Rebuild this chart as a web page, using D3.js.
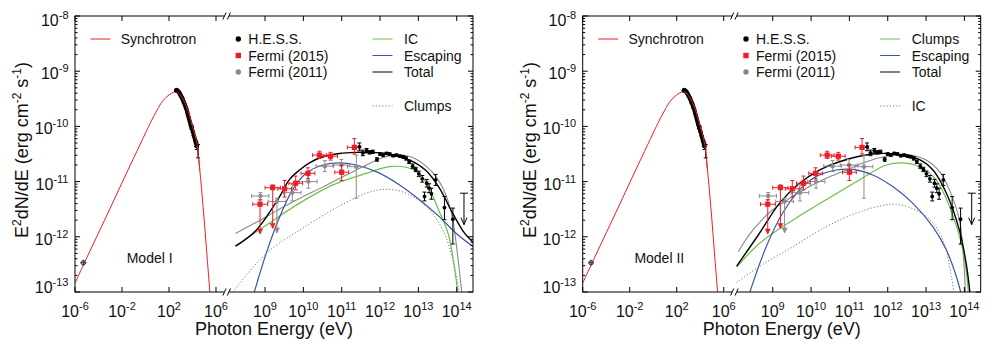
<!DOCTYPE html>
<html><head><meta charset="utf-8">
<script src="https://cdn.jsdelivr.net/npm/d3@7"></script>
<style>body{margin:0;background:#fff} text{font-family:"Liberation Sans",Arial,sans-serif;fill:#111}</style>
</head><body><svg id="c" width="987" height="347"></svg>
<script>
// All values are [log10 E (eV), log10 E^2 dN/dE (erg cm^-2 s^-1)]
const yTicks = [-8,-9,-10,-11,-12,-13];
const xTicksLow = [-6,-2,2,6];
const xTicksHigh = [9,10,11,12,13,14];

const synchrotron = [[-6,-12.84],[-5,-12.38],[-4,-11.93],[-3,-11.48],[-2,-11.02],[-1,-10.57],[0,-10.12],[0.5,-9.9],[1,-9.7],[1.5,-9.53],[2,-9.43],[2.4,-9.38],[2.65,-9.37],[3,-9.44],[3.5,-9.65],[4,-10.0],[4.36,-10.3],[4.62,-10.79],[4.9,-11.45],[5.2,-12.25],[5.55,-13.2]];
const radioPoint = [[-5.29,-12.47]];
const xrayData = [[2.6,-9.35],[2.65,-9.34],[2.7,-9.35],[2.75,-9.36],[2.8,-9.37],[2.85,-9.38],[2.9,-9.4],[2.95,-9.42],[3.0,-9.44],[3.05,-9.46],[3.1,-9.48],[3.15,-9.5],[3.2,-9.53],[3.25,-9.56],[3.3,-9.58],[3.35,-9.61],[3.4,-9.64],[3.45,-9.67],[3.5,-9.7],[3.55,-9.74],[3.6,-9.78],[3.65,-9.82],[3.7,-9.86],[3.75,-9.9],[3.8,-9.94],[3.85,-9.98],[3.9,-10.03],[3.95,-10.01],[4.0,-10.08],[4.05,-10.11],[4.1,-10.16],[4.15,-10.19],[4.2,-10.23],[4.25,-10.27],[4.3,-10.31],[4.36,-10.36]];
const xrayErr = [[4.3,-10.31,0.05],[4.36,-10.36,0.06],[4.47,-10.45,0.12]];

// H.E.S.S.: [logE, logF, errDown, errUp]
const hess = [[11.46,-10.37,.07,.07],[11.55,-10.48,.05,.05],[11.65,-10.44,.04,.04],[11.73,-10.47,.03,.03],[11.81,-10.46,.03,.03],[11.92,-10.6,.03,.03],[12.0,-10.5,.02,.02],[12.08,-10.52,.02,.02],[12.17,-10.49,.02,.02],[12.25,-10.5,.02,.02],[12.34,-10.53,.02,.02],[12.43,-10.52,.02,.02],[12.52,-10.54,.02,.02],[12.6,-10.55,.02,.02],[12.68,-10.58,.03,.03],[12.76,-10.64,.03,.03],[12.85,-10.72,.04,.04],[12.93,-10.78,.04,.04],[13.01,-10.86,.05,.05],[13.1,-10.95,.06,.06],[13.16,-11.27,.08,.08],[13.22,-11.03,.07,.07],[13.28,-11.12,.08,.08],[13.34,-11.22,.1,.1],[13.45,-10.97,.1,.1],[13.68,-11.47,.22,.2],[13.9,-11.68,.45,.2]];
const hessUL = [[14.19,-11.21,-11.78]];
// Fermi (2015): [logE, logF, lowF, highF, lowE, highE, arrow]
const fermi2015 = [[8.87,-11.41,-11.95,-11.33,8.68,9.07,1],[9.2,-11.11,-11.85,-11.06,9.0,9.4,1],[9.51,-11.13,-11.28,-10.98,9.33,9.69,0],[9.8,-11.03,-11.15,-10.9,9.62,9.98,0],[10.12,-10.85,-10.95,-10.75,9.94,10.3,0],[10.42,-10.52,-10.58,-10.45,10.24,10.6,0],[10.71,-10.54,-10.61,-10.47,10.53,10.89,0],[11.0,-10.83,-10.98,-10.7,10.82,11.18,0],[11.33,-10.38,-10.5,-10.22,11.15,11.5,0]];
// Fermi (2011): [logE, logF, lowF, highF, lowE, highE, arrow]
const fermi2011 = [[8.88,-11.26,-11.33,-11.2,8.65,9.1,0],[9.31,-11.36,-11.93,-11.3,9.08,9.54,1],[9.71,-11.2,-11.35,-11.05,9.48,9.94,0],[10.13,-11.0,-11.12,-10.88,9.9,10.36,0],[10.56,-10.72,-10.82,-10.62,10.33,10.79,0],[10.99,-10.7,-10.8,-10.6,10.76,11.22,0],[11.38,-10.73,-11.3,-10.52,11.15,11.61,0]];

// Model I curves
const m1Total = [[8.23,-12.17],[8.77,-11.88],[9.38,-11.27],[9.64,-10.96],[9.9,-10.79],[10.16,-10.66],[10.51,-10.55],[10.94,-10.49],[11.38,-10.47],[11.81,-10.47],[12.16,-10.49],[12.51,-10.55],[12.86,-10.64],[13.2,-10.8],[13.55,-11.12],[13.9,-11.58],[14.2,-11.93],[14.43,-12.1]];
const m1IC = [[8.23,-12.17],[9.03,-11.79],[9.9,-11.39],[10.77,-11.06],[11.64,-10.85],[12.25,-10.73],[12.68,-10.74],[13.03,-10.85],[13.3,-11.15],[13.55,-11.55],[13.78,-11.95],[13.95,-12.6],[14.04,-13.1]];
const m1Escaping = [[8.7,-13.05],[9.03,-12.3],[9.38,-11.64],[9.72,-11.15],[10.07,-10.85],[10.51,-10.7],[10.94,-10.66],[11.38,-10.7],[11.9,-10.82],[12.51,-11.06],[13.03,-11.33],[13.55,-11.64],[13.99,-11.94],[14.43,-12.18]];
const m1Clumps = [[8.1,-13.05],[9.03,-12.3],[9.9,-11.88],[10.77,-11.51],[11.64,-11.21],[12.16,-11.14],[12.68,-11.21],[13.2,-11.45],[13.64,-11.88],[13.9,-12.42],[14.08,-13.05]];
const m1Gray = [[8.23,-11.94],[9.0,-11.65],[9.5,-11.45],[10.0,-11.27],[10.5,-11.1],[11.0,-10.92],[11.5,-10.75],[12.0,-10.58],[12.4,-10.52],[12.8,-10.55],[13.2,-10.72],[13.5,-10.95],[13.75,-11.3],[13.9,-11.7],[14.0,-12.2],[14.1,-12.8],[14.14,-13.05]];
// Model II curves
const m2Total = [[8.06,-12.53],[8.65,-11.94],[9.18,-11.39],[9.7,-11.03],[10.22,-10.79],[10.74,-10.64],[11.26,-10.54],[11.79,-10.49],[12.31,-10.51],[12.83,-10.6],[13.18,-10.79],[13.53,-11.21],[13.87,-11.88],[14.05,-12.5],[14.15,-13.05]];
const m2Clumps = [[8.06,-12.55],[8.65,-12.12],[9.52,-11.7],[10.39,-11.33],[11.26,-10.97],[11.96,-10.7],[12.39,-10.66],[12.83,-10.73],[13.26,-10.97],[13.61,-11.45],[13.96,-12.24],[14.11,-13.05]];
const m2Escaping = [[8.38,-13.05],[8.83,-12.18],[9.26,-11.57],[9.7,-11.15],[10.13,-10.91],[10.66,-10.79],[11.09,-10.78],[11.61,-10.88],[12.13,-11.09],[12.65,-11.39],[13.18,-11.82],[13.53,-12.24],[13.79,-12.72],[13.92,-13.05]];
const m2IC = [[8.06,-12.83],[8.65,-12.54],[9.52,-12.18],[10.39,-11.82],[11.26,-11.55],[11.96,-11.42],[12.31,-11.42],[12.83,-11.55],[13.26,-11.82],[13.5,-12.18],[13.66,-12.72],[13.74,-13.05]];
const m2Gray = [[8.1,-12.27],[8.48,-11.88],[9.0,-11.51],[9.52,-11.27],[9.96,-11.09],[10.39,-10.94],[10.92,-10.79],[11.44,-10.64],[11.96,-10.54],[12.48,-10.51],[13.0,-10.61],[13.35,-10.82],[13.61,-11.15],[13.87,-11.7],[13.98,-12.42],[14.03,-13.05]];

const panels = [
  {left:75, label:"Model I", total:m1Total, green:m1IC, blue:m1Escaping, dotted:m1Clumps, gray:m1Gray, names:["IC","Escaping","Total","Clumps"]},
  {left:582.7, label:"Model II", total:m2Total, green:m2Clumps, blue:m2Escaping, dotted:m2IC, gray:m2Gray, names:["Clumps","Escaping","Total","IC"]}
];

const W = 398, H = 276, TOP = 16, BX = 151.7;
const RED = "#ee1c24", GREEN = "#6cc04a", BLUE = "#3a56a8", GRAY = "#8a8a8a";
const svg = d3.select("#c");
const P = v => Math.pow(10, v);
const y = d3.scaleLog().domain([1e-13, 1e-8]).range([H, 0]);
const xL = d3.scaleLog().domain([1e-6, P(6.91)]).range([0, BX]);
const xR = d3.scaleLog().domain([1e8, P(14.425)]).range([BX, W]);

panels.forEach((pn, pi) => {
  const g = svg.append("g").attr("transform", `translate(${pn.left},${TOP})`);
  const defs = g.append("defs");
  defs.append("clipPath").attr("id", "cl" + pi).append("rect").attr("x", 0).attr("y", 0).attr("width", BX).attr("height", H);
  defs.append("clipPath").attr("id", "cr" + pi).append("rect").attr("x", BX).attr("y", 0).attr("width", W - BX).attr("height", H);
  const gL = g.append("g").attr("clip-path", `url(#cl${pi})`);
  const gR = g.append("g").attr("clip-path", `url(#cr${pi})`);

  const lineL = d3.line().x(d => xL(P(d[0]))).y(d => y(P(d[1]))).curve(d3.curveCatmullRom.alpha(0.5));
  const lineR = d3.line().x(d => xR(P(d[0]))).y(d => y(P(d[1]))).curve(d3.curveCatmullRom.alpha(0.5));

  // model curves (right segment)
  gR.append("path").attr("d", lineR(pn.dotted)).attr("fill", "none").attr("stroke", "#777").attr("stroke-width", 1).attr("stroke-dasharray", "1.2,2");
  gR.append("path").attr("d", lineR(pn.gray)).attr("fill", "none").attr("stroke", GRAY).attr("stroke-width", 1.1);
  gR.append("path").attr("d", lineR(pn.green)).attr("fill", "none").attr("stroke", GREEN).attr("stroke-width", 1.2);
  gR.append("path").attr("d", lineR(pn.blue)).attr("fill", "none").attr("stroke", BLUE).attr("stroke-width", 1.2);
  gR.append("path").attr("d", lineR(pn.total)).attr("fill", "none").attr("stroke", "#000").attr("stroke-width", 1.4);

  // synchrotron (left segment)
  gL.append("path").attr("d", lineL(synchrotron)).attr("fill", "none").attr("stroke", RED).attr("stroke-width", 1);
  // x-ray data
  xrayErr.forEach(d => {
    const X = xL(P(d[0]));
    gL.append("line").attr("x1", X).attr("x2", X).attr("y1", y(P(d[1] - d[2]))).attr("y2", y(P(d[1] + d[2]))).attr("stroke", "#000").attr("stroke-width", 1);
    [d[1] - d[2], d[1] + d[2]].forEach(v => gL.append("line").attr("x1", X - 2).attr("x2", X + 2).attr("y1", y(P(v))).attr("y2", y(P(v))).attr("stroke", "#000"));
  });
  gL.selectAll(null).data(xrayData).enter().append("circle").attr("cx", d => xL(P(d[0]))).attr("cy", d => y(P(d[1]))).attr("r", 2.2).attr("fill", "#000");
  gL.append("path").attr("d", lineL(synchrotron.filter(d => d[0] >= 2.5 && d[0] <= 4.7))).attr("fill", "none").attr("stroke", RED).attr("stroke-width", 1);
  // radio point
  radioPoint.forEach(d => {
    const X = xL(P(d[0])), Y = y(P(d[1]));
    g.append("line").attr("x1", X - 3).attr("x2", X + 3).attr("y1", Y).attr("y2", Y).attr("stroke", "#333");
    g.append("line").attr("x1", X).attr("x2", X).attr("y1", Y - 3).attr("y2", Y + 3).attr("stroke", "#333");
    g.append("circle").attr("cx", X).attr("cy", Y).attr("r", 2.2).attr("fill", "none").attr("stroke", "#333").attr("stroke-width", 1);
  });

  // error bar helper
  function errPoint(d, col, kind) {
    const X = xR(P(d[0])), Y = y(P(d[1]));
    const Xl = xR(P(d[4])), Xh = xR(P(d[5])), Yl = y(P(d[2])), Yh = y(P(d[3]));
    gR.append("line").attr("x1", Xl).attr("x2", Xh).attr("y1", Y).attr("y2", Y).attr("stroke", col).attr("stroke-width", 1);
    [Xl, Xh].forEach(v => gR.append("line").attr("x1", v).attr("x2", v).attr("y1", Y - 2).attr("y2", Y + 2).attr("stroke", col));
    gR.append("line").attr("x1", X).attr("x2", X).attr("y1", Yh).attr("y2", Yl).attr("stroke", col).attr("stroke-width", 1);
    gR.append("line").attr("x1", X - 2).attr("x2", X + 2).attr("y1", Yh).attr("y2", Yh).attr("stroke", col);
    if (d[6]) {
      gR.append("path").attr("d", `M${X - 2.5},${Yl - 5}L${X},${Yl}L${X + 2.5},${Yl - 5}Z`).attr("fill", col).attr("stroke", col).attr("stroke-width", 0.6);
    } else {
      gR.append("line").attr("x1", X - 2).attr("x2", X + 2).attr("y1", Yl).attr("y2", Yl).attr("stroke", col);
    }
    if (kind === "sq") gR.append("rect").attr("x", X - 2.6).attr("y", Y - 2.6).attr("width", 5.2).attr("height", 5.2).attr("fill", col);
    else gR.append("circle").attr("cx", X).attr("cy", Y).attr("r", 2.2).attr("fill", col);
  }
  fermi2011.forEach(d => errPoint(d, "#8c8c8c", "c"));
  fermi2015.forEach(d => errPoint(d, RED, "sq"));
  hess.forEach(d => {
    const X = xR(P(d[0])), Y = y(P(d[1])), Yl = y(P(d[1] - d[2])), Yh = y(P(d[1] + d[3]));
    gR.append("line").attr("x1", X).attr("x2", X).attr("y1", Yh).attr("y2", Yl).attr("stroke", "#000");
    [Yl, Yh].forEach(v => gR.append("line").attr("x1", X - 2).attr("x2", X + 2).attr("y1", v).attr("y2", v).attr("stroke", "#000"));
    gR.append("circle").attr("cx", X).attr("cy", Y).attr("r", 1.9).attr("fill", "#000");
  });
  hessUL.forEach(d => {
    const X = xR(P(d[0])), Y = y(P(d[1])), Y2 = y(P(d[2]));
    gR.append("line").attr("x1", X - 4).attr("x2", X + 4).attr("y1", Y).attr("y2", Y).attr("stroke", "#000");
    gR.append("line").attr("x1", X).attr("x2", X).attr("y1", Y).attr("y2", Y2).attr("stroke", "#000");
    gR.append("path").attr("d", `M${X - 3},${Y2 - 7}L${X},${Y2}L${X + 3},${Y2 - 7}`).attr("fill", "none").attr("stroke", "#000");
  });

  // frame
  const ax = g.append("g").attr("stroke", "#000").attr("stroke-width", 1);
  ax.append("rect").attr("x", 0).attr("y", 0).attr("width", W).attr("height", H).attr("fill", "none");
  // y ticks
  yTicks.forEach(t => {
    const Y = y(P(t));
    ax.append("line").attr("x1", 0).attr("x2", 5).attr("y1", Y).attr("y2", Y);
    ax.append("line").attr("x1", W - 5).attr("x2", W).attr("y1", Y).attr("y2", Y);
    if (t > -13) for (let k = 2; k <= 9; k++) {
      const Ym = y(k * P(t - 1));
      ax.append("line").attr("x1", 0).attr("x2", 2.5).attr("y1", Ym).attr("y2", Ym);
      ax.append("line").attr("x1", W - 2.5).attr("x2", W).attr("y1", Ym).attr("y2", Ym);
    }
    const dy = t === -13 ? 1 : (t === -8 ? 10 : 8);
    const tx = g.append("text").attr("x", -6.5).attr("y", Y + dy).attr("text-anchor", "end").attr("font-size", 16);
    tx.append("tspan").text("10");
    tx.append("tspan").attr("dy", -7).attr("font-size", 11).text(t);
  });
  // x ticks
  const xt = xTicksLow.map(t => [xL(P(t)), t]).concat(xTicksHigh.map(t => [xR(P(t)), t]));
  xt.forEach(([X, t]) => {
    ax.append("line").attr("x1", X).attr("x2", X).attr("y1", H).attr("y2", H - 5);
    ax.append("line").attr("x1", X).attr("x2", X).attr("y1", 0).attr("y2", 5);
    const tx = g.append("text").attr("x", X).attr("y", H + 24.5).attr("text-anchor", "middle").attr("font-size", 16);
    tx.append("tspan").text("10");
    tx.append("tspan").attr("dy", -7).attr("font-size", 11).text(t);
  });
  // axis break marks
  [0, H].forEach(Y => {
    g.append("rect").attr("x", BX - 2.5).attr("y", Y - 1.5).attr("width", 5).attr("height", 3).attr("fill", "#fff");
    [-2.2, 2.2].forEach(o => g.append("line").attr("x1", BX + o - 1.6).attr("x2", BX + o + 1.6).attr("y1", Y + 3.5).attr("y2", Y - 3.5).attr("stroke", "#000").attr("stroke-width", 1));
  });

  // axis titles
  g.append("text").attr("x", W / 2).attr("y", 319).attr("text-anchor", "middle").attr("font-size", 18).text("Photon Energy (eV)");
  const yt = g.append("text").attr("transform", `translate(-47,${H / 2 - 4}) rotate(-90)`).attr("text-anchor", "middle").attr("font-size", 18);
  yt.append("tspan").text("E");
  yt.append("tspan").attr("dy", -7).attr("font-size", 12).text("2");
  yt.append("tspan").attr("dy", 7).text("dN/dE (erg cm");
  yt.append("tspan").attr("dy", -7).attr("font-size", 12).text("-2");
  yt.append("tspan").attr("dy", 7).text(" s");
  yt.append("tspan").attr("dy", -7).attr("font-size", 12).text("-1");
  yt.append("tspan").attr("dy", 7).text(")");

  // model label
  g.append("text").attr("x", 51.7).attr("y", 247).attr("font-size", 14).text(pn.label);

  // legend
  const leg = g.append("g").attr("font-size", 14);
  leg.append("line").attr("x1", 15.5).attr("x2", 35.5).attr("y1", 23).attr("y2", 23).attr("stroke", RED);
  leg.append("text").attr("x", 45.7).attr("y", 28).attr("font-size", 14).text("Synchrotron");
  const rows = [23, 39.5, 56];
  leg.append("circle").attr("cx", 163.3).attr("cy", rows[0]).attr("r", 2.7).attr("fill", "#000");
  leg.append("rect").attr("x", 160.6).attr("y", rows[1] - 2.7).attr("width", 5.4).attr("height", 5.4).attr("fill", RED);
  leg.append("circle").attr("cx", 163.3).attr("cy", rows[2]).attr("r", 2.7).attr("fill", GRAY);
  ["H.E.S.S.", "Fermi (2015)", "Fermi (2011)"].forEach((s, i) => leg.append("text").attr("x", 173.3).attr("y", rows[i] + 5).attr("font-size", 14).text(s));
  const cols = [GREEN, BLUE, "#000"];
  cols.forEach((c, i) => {
    leg.append("line").attr("x1", 297.5).attr("x2", 317.5).attr("y1", rows[i]).attr("y2", rows[i]).attr("stroke", c).attr("stroke-width", 1);
    leg.append("text").attr("x", 329).attr("y", rows[i] + 5).attr("font-size", 14).text(pn.names[i]);
  });
  leg.append("line").attr("x1", 297.5).attr("x2", 317.5).attr("y1", 90).attr("y2", 90).attr("stroke", "#777").attr("stroke-dasharray", "1.2,2");
  leg.append("text").attr("x", 329).attr("y", 95).attr("font-size", 14).text(pn.names[3]);
});
</script></body></html>
